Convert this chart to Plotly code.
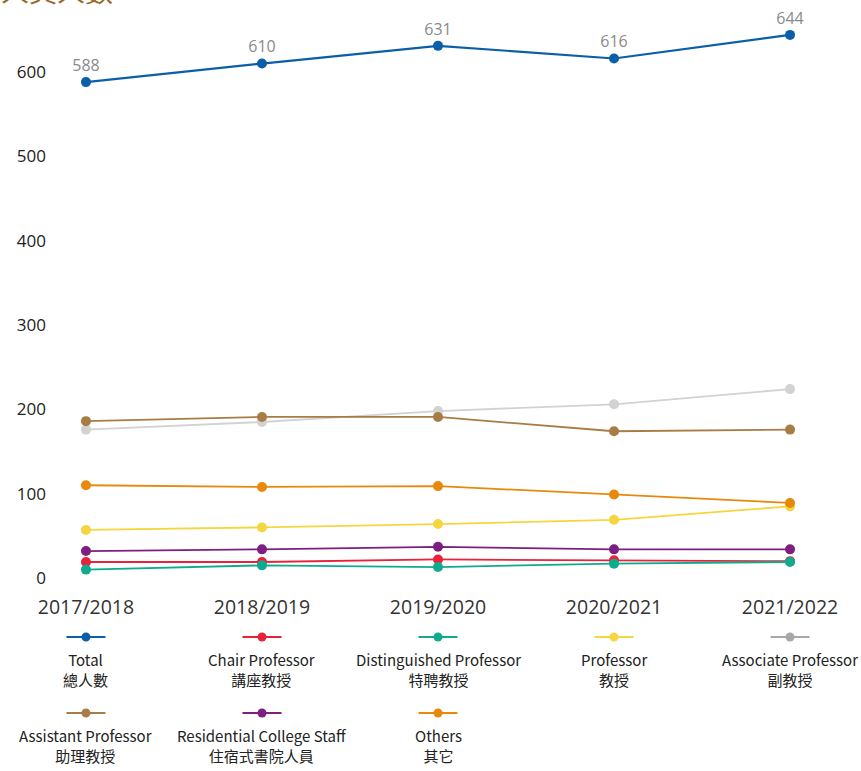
import plotly.graph_objects as go

years = ["2017/2018", "2018/2019", "2019/2020", "2020/2021", "2021/2022"]

total = [588, 610, 631, 616, 644]
chair_prof = [19, 19, 22, 21, 20]
distinguished_prof = [10, 15, 13, 17, 19]
professor = [57, 60, 64, 69, 85]
associate_prof = [176, 185, 198, 206, 224]
assistant_prof = [186, 191, 191, 174, 176]
residential_staff = [32, 34, 37, 34, 34]
others = [110, 108, 109, 99, 89]

series = [
    ("Total", "總人數", total, "#0b5ea8", "#0b5ea8"),
    ("Chair Professor", "講座教授", chair_prof, "#e8223a", "#e8223a"),
    ("Distinguished Professor", "特聘教授", distinguished_prof, "#10ab8f", "#10ab8f"),
    ("Professor", "教授", professor, "#f6d640", "#f6d640"),
    ("Associate Professor", "副教授", associate_prof, "#d2d2d2", "#a8a8a8"),
    ("Assistant Professor", "助理教授", assistant_prof, "#a87c44", "#a87c44"),
    ("Residential College Staff", "住宿式書院人員", residential_staff, "#7c1f80", "#7c1f80"),
    ("Others", "其它", others, "#e8890c", "#e8890c"),
]

cjk = "Noto Sans CJK TC"

fig = go.Figure()
for name, zh, vals, color, _ in series:
    is_total = name == "Total"
    fig.add_trace(go.Scatter(
        x=list(range(len(years))),
        y=vals,
        name=name,
        mode="lines+markers+text" if is_total else "lines+markers",
        line=dict(color=color, width=2.2 if is_total else 1.8),
        marker=dict(color=color, size=10),
        text=[str(v) for v in vals] if is_total else None,
        textposition="top center",
        textfont=dict(color="#8a8a8a", size=16, family="Open Sans"),
        cliponaxis=False,
        showlegend=False,
    ))

# custom legend: 5 columns under the category positions, text below sample
row_y = [-0.081, -0.212]
for i, (name, zh, vals, color, legcolor) in enumerate(series):
    col = i % 5
    ly = row_y[i // 5]
    fig.add_shape(type="line", xref="x", yref="paper",
                  x0=col - 19.5 / 176, x1=col + 19.5 / 176, y0=ly, y1=ly,
                  line=dict(color=legcolor, width=2))
    fig.add_shape(type="circle", xref="x", yref="paper",
                  xsizemode="pixel", ysizemode="pixel",
                  xanchor=col, yanchor=ly, x0=-4.5, x1=4.5, y0=-4.5, y1=4.5,
                  fillcolor=legcolor, line=dict(color=legcolor, width=0))
    fig.add_annotation(x=col, xref="x", y=ly - 0.017, yref="paper",
                       text=f"{name}<br>{zh}", showarrow=False,
                       xanchor="center", yanchor="top", align="center",
                       font=dict(family=cjk, size=15, color="#222222"))

# page heading, mostly cut off at the top edge
fig.add_annotation(x=0.0759, xref="paper", y=0.996, yref="paper",
                   text="教學人員人數", showarrow=False,
                   xanchor="right", yanchor="bottom",
                   font=dict(family=cjk, size=28, color="#9a6a2a"))

fig.update_xaxes(
    tickmode="array", tickvals=list(range(len(years))), ticktext=years,
    range=[-0.176, 4.318], showgrid=False, zeroline=False, showline=False,
    ticks="", tickfont=dict(family="Open Sans", size=19.5, color="#333333"),
    ticklabelstandoff=3,
)
fig.update_yaxes(
    range=[-14.2, 673.5], tickvals=[0, 100, 200, 300, 400, 500, 600],
    showgrid=False, zeroline=False, showline=False, ticks="",
    tickfont=dict(family="Open Sans", size=17, color="#222222"),
    ticklabelstandoff=8,
)
fig.update_layout(
    width=861, height=771,
    margin=dict(l=55, r=15, t=10, b=181),
    plot_bgcolor="white", paper_bgcolor="white",
    showlegend=False,
)

fig.write_html("out.html", config={"displayModeBar": False},
               post_script="document.body.style.margin='0';")
